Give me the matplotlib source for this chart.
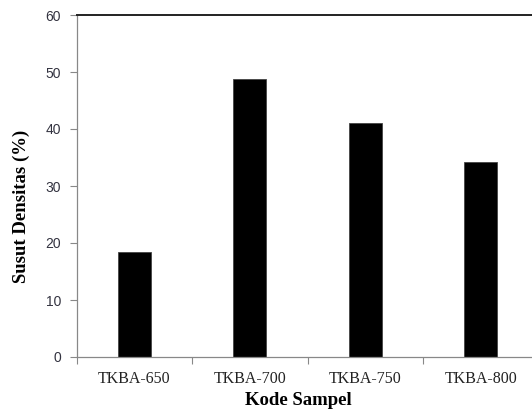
import matplotlib
matplotlib.use('Agg')
import matplotlib.pyplot as plt

# data
samples = ['TKBA-650', 'TKBA-700', 'TKBA-750', 'TKBA-800']
susut = [18.5, 48.7, 41.0, 34.2]
y_ticks = [0, 10, 20, 30, 40, 50, 60]

def visualize():
    fig = plt.figure(figsize=(5.32, 4.12), dpi=100)
    ax = fig.add_axes([76.5 / 532, 55 / 412, 462 / 532, 342 / 412])

    x = range(len(samples))
    ax.bar(x, susut, width=0.29, color='black', edgecolor='#444444', linewidth=0.6)

    ax.set_xlim(-0.5, len(samples) - 0.5)
    ax.set_ylim(0, 60)
    ax.set_yticks(y_ticks)
    ax.set_yticklabels([str(v) for v in y_ticks], fontfamily='Liberation Sans',
                       fontsize=10, color='#333340')

    # category labels between boundary ticks
    ax.set_xticks([i + 0.5 for i in range(-1, len(samples))])
    ax.set_xticklabels([])
    ax.set_xticks(list(x), minor=True)
    ax.set_xticklabels(samples, minor=True, fontfamily='Liberation Serif',
                       fontsize=11.5, color='#222222')
    ax.tick_params(axis='x', which='minor', length=0, pad=10)
    ax.tick_params(axis='x', which='major', length=5, color='#888888', direction='out')
    ax.tick_params(axis='y', length=5, color='#888888', direction='out', pad=6)

    for s in ['left', 'bottom']:
        ax.spines[s].set_color('#888888')
        ax.spines[s].set_linewidth(0.9)
    ax.spines['top'].set_color('#222222')
    ax.spines['top'].set_linewidth(1.4)
    ax.spines['right'].set_visible(False)

    ax.set_ylabel('Susut Densitas (%)', fontfamily='Liberation Serif',
                  fontweight='bold', fontsize=13.5)
    ax.yaxis.set_label_coords(-0.1, 0.44)
    ax.set_xlabel('Kode Sampel', fontfamily='Liberation Serif',
                  fontweight='bold', fontsize=13.5)
    ax.xaxis.set_label_coords(0.48, -0.103)

    fig.savefig('out.png', dpi=100)

if __name__ == '__main__':
    visualize()
